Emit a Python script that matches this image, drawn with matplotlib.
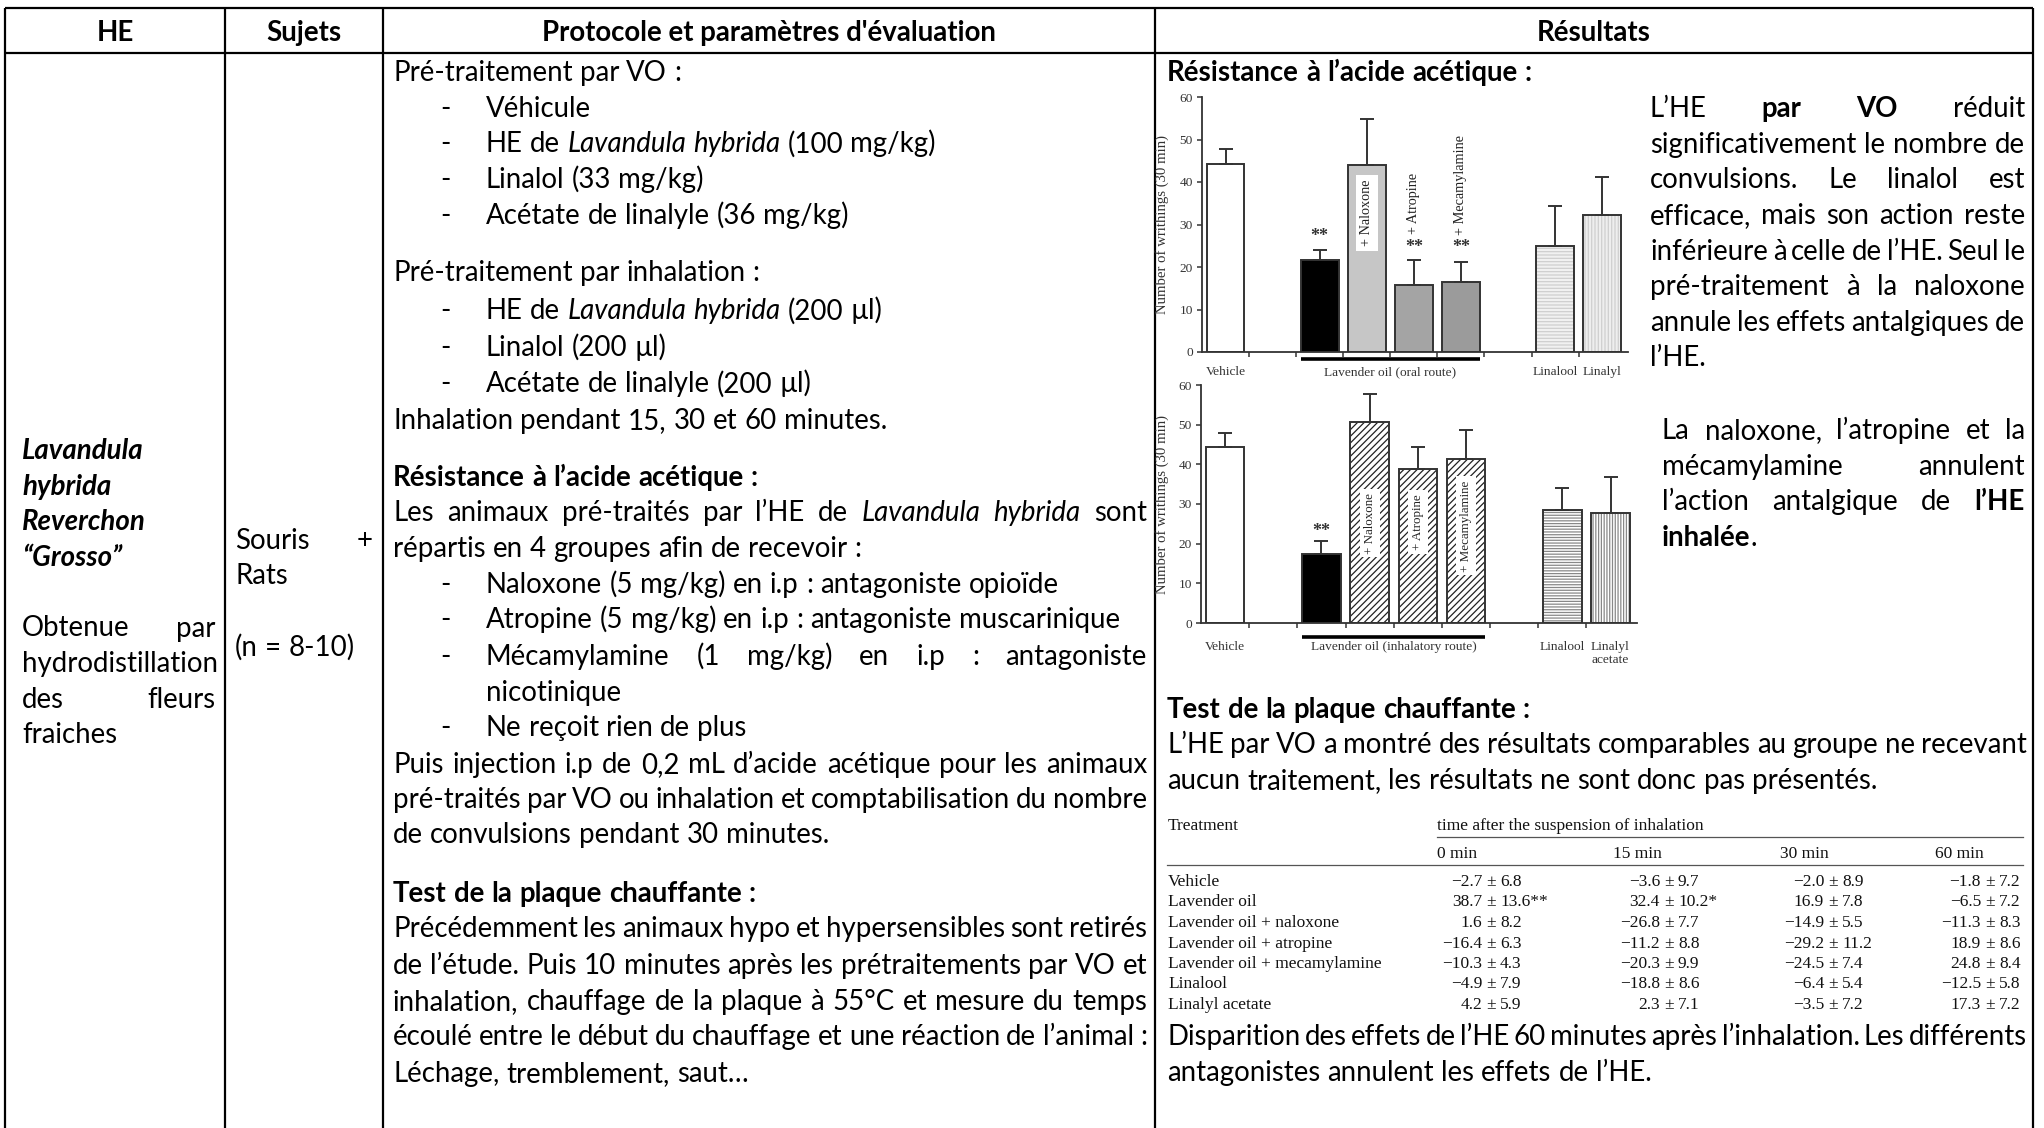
import re
import matplotlib
matplotlib.use('Agg')
import matplotlib.pyplot as plt
import numpy as np

# ---------------- data ----------------
bar_names_oral = ["Vehicle", "Lavender oil", "+ Naloxone", "+ Atropine", "+ Mecamylamine", "Linalool", "Linalyl"]
bar_pos = [0, 2, 3, 4, 5, 7, 8]
oral_means = [44.3, 21.6, 43.9, 15.8, 16.5, 25.0, 32.3]
oral_err = [3.5, 2.3, 11.0, 5.8, 4.7, 9.4, 8.9]
oral_sig = ["", "**", "", "**", "**", "", ""]

inh_means = [44.4, 17.4, 50.6, 38.9, 41.4, 28.4, 27.8]
inh_err = [3.6, 3.2, 7.1, 5.5, 7.3, 5.6, 9.1]
inh_sig = ["", "**", "", "", "", "", ""]

tbl_treat = ["Vehicle", "Lavender oil", "Lavender oil + naloxone", "Lavender oil + atropine",
             "Lavender oil + mecamylamine", "Linalool", "Linalyl acetate"]
tbl_times = ["0 min", "15 min", "30 min", "60 min"]
tbl_mean = [[-2.7, -3.6, -2.0, -1.8],
            [38.7, 32.4, 16.9, -6.5],
            [1.6, -26.8, -14.9, -11.3],
            [-16.4, -11.2, -29.2, 18.9],
            [-10.3, -20.3, -24.5, 24.8],
            [-4.9, -18.8, -6.4, -12.5],
            [4.2, 2.3, -3.5, 17.3]]
tbl_sem = [[6.8, 9.7, 8.9, 7.2],
           [13.6, 10.2, 7.8, 7.2],
           [8.2, 7.7, 5.5, 8.3],
           [6.3, 8.8, 11.2, 8.6],
           [4.3, 9.9, 7.4, 8.4],
           [7.9, 8.6, 5.4, 5.8],
           [5.9, 7.1, 7.2, 7.2]]
tbl_sig = [["", "", "", ""],
           ["**", "*", "", ""],
           ["", "", "", ""],
           ["", "", "", ""],
           ["", "", "", ""],
           ["", "", "", ""],
           ["", "", "", ""]]

headers = ["HE", "Sujets", "Protocole et paramètres d'évaluation", "Résultats"]

col1_lines = [("Lavandula", 'bi', False), ("hybrida", 'bi', False), ("Reverchon", 'bi', False),
              ("“Grosso”", 'bi', False), None, ("Obtenue par", 'r', True),
              ("hydrodistillation", 'r', False), ("des fleurs", 'r', True), ("fraiches", 'r', False)]
col2_lines = [("Souris +", True), ("Rats", False), None, ("(n = 8-10)", False)]

col3_lines = [
    ('p', 'Pré-traitement par VO :', 55, False),
    ('d', 'Véhicule', 83, False),
    ('d', 'HE de __Lavandula hybrida__ (100 mg/kg)', 110, False),
    ('d', 'Linalol (33 mg/kg)', 137, False),
    ('d', 'Acétate de linalyle (36 mg/kg)', 165, False),
    ('p', 'Pré-traitement par inhalation :', 209, False),
    ('d', 'HE de __Lavandula hybrida__ (200 µl)', 238, False),
    ('d', 'Linalol (200 µl)', 266, False),
    ('d', 'Acétate de linalyle (200 µl)', 294, False),
    ('p', 'Inhalation pendant 15, 30 et 60 minutes.', 322, False),
    ('p', '**Résistance à l’acide acétique :**', 366, False),
    ('p', 'Les animaux pré-traités par l’HE de __Lavandula hybrida__ sont', 393, True),
    ('p', 'répartis en 4 groupes afin de recevoir :', 420, False),
    ('d', 'Naloxone (5 mg/kg) en i.p : antagoniste opioïde', 448, False),
    ('d', 'Atropine (5 mg/kg) en i.p : antagoniste muscarinique', 475, False),
    ('d', 'Mécamylamine (1 mg/kg) en i.p : antagoniste', 503, True),
    ('c', 'nicotinique', 531, False),
    ('d', 'Ne reçoit rien de plus', 558, False),
    ('p', 'Puis injection i.p de 0,2 mL d’acide acétique pour les animaux', 586, True),
    ('p', 'pré-traités par VO ou inhalation et comptabilisation du nombre', 613, True),
    ('p', 'de convulsions pendant 30 minutes.', 640, False),
    ('p', '**Test de la plaque chauffante :**', 685, False),
    ('p', 'Précédemment les animaux hypo et hypersensibles sont retirés', 712, True),
    ('p', 'de l’étude. Puis 10 minutes après les prétraitements par VO et', 740, True),
    ('p', 'inhalation, chauffage de la plaque à 55°C et mesure du temps', 768, True),
    ('p', 'écoulé entre le début du chauffage et une réaction de l’animal :', 795, True),
    ('p', 'Léchage, tremblement, saut…', 823, False),
]

resA = ['L’HE **par** **VO** réduit', 'significativement le nombre de', 'convulsions. Le linalol est',
        'efficace, mais son action reste', 'inférieure à celle de l’HE. Seul le',
        'pré-traitement à la naloxone', 'annule les effets antalgiques de', 'l’HE.']
resB = ['La naloxone, l’atropine et la', 'mécamylamine annulent',
        'l’action antalgique de **l’HE**', '**inhalée**.']

# ---------------- setup ----------------
plt.rcParams['hatch.linewidth'] = 0.9
W, H = 2044, 1128
S = 1.3036
fig = plt.figure(figsize=(W / 100, H / 100), dpi=100)
fig.patch.set_facecolor('white')
bg = fig.add_axes([0, 0, 1, 1], zorder=0)
bg.set_xlim(0, W)
bg.set_ylim(H, 0)
bg.axis('off')
R = fig.canvas.get_renderer()

BODY = ['Lato', 'DejaVu Sans']
SERIF = ['Liberation Serif', 'DejaVu Serif']
STY = {'r': {}, 'b': {'weight': 'bold'}, 'i': {'style': 'italic'},
       'bi': {'weight': 'bold', 'style': 'italic'}}
_cache = {}


def tw(s, st, size, fam=BODY):
    key = (s, st, size, tuple(fam))
    if key not in _cache:
        t = bg.text(0, 0, s, fontsize=size, family=fam, **STY[st])
        _cache[key] = t.get_window_extent(R).width
        t.remove()
    return _cache[key]


def parse(line, base='r'):
    runs = []
    for part in re.split(r'(\*\*.*?\*\*|__.*?__)', line):
        if not part:
            continue
        if part.startswith('**'):
            runs.append((part[2:-2], 'b'))
        elif part.startswith('__'):
            runs.append((part[2:-2], 'i'))
        else:
            runs.append((part, base))
    words, cur = [], []
    for txt, st in runs:
        for tok in re.split(r'( +)', txt):
            if tok == '':
                continue
            if tok.strip() == '':
                if cur:
                    words.append(cur)
                    cur = []
            else:
                cur.append((tok, st))
    if cur:
        words.append(cur)
    return words


BS = 20 * 495 / tw('Inhalation pendant 15, 30 et 60 minutes.', 'r', 20)


def draw_line(line, x0, x1, y, justify=False, base='r', size=None, fam=BODY):
    size = size or BS
    words = parse(line, base)
    widths = [sum(tw(t, st, size, fam) for t, st in w) for w in words]
    space = tw('a a', 'r', size, fam) - tw('aa', 'r', size, fam)
    if justify and len(words) > 1:
        gap = (x1 - x0 - sum(widths)) / (len(words) - 1)
    else:
        gap = space
    x = x0
    for w, wd in zip(words, widths):
        xx = x
        for t, st in w:
            bg.text(xx, y, t, fontsize=size, family=fam, va='baseline', ha='left', color='black', **STY[st])
            xx += tw(t, st, size, fam)
        x += wd + gap


def yb(yd):
    return yd * S + 9

# ---------------- grid lines ----------------
vx = [5, 225, 383, 1155, 2033]
for x in vx:
    bg.plot([x, x], [8, H + 5], color='black', lw=1.6, solid_capstyle='butt')
for y in [8, 53]:
    bg.plot([vx[0], vx[-1]], [y, y], color='black', lw=1.6, solid_capstyle='butt')

for i, h in enumerate(headers):
    bg.text((vx[i] + vx[i + 1]) / 2, 41, h, fontsize=BS, family=BODY, weight='bold',
            ha='center', va='baseline')

# ---------------- column 1 & 2 ----------------
for i, item in enumerate(col1_lines):
    if item is None:
        continue
    txt, base, j = item
    draw_line(txt, 22, 215, 450 + 35.5 * i + 9, justify=j, base=base)

for i, item in enumerate(col2_lines):
    if item is None:
        continue
    txt, j = item
    draw_line(txt, 235, 373, 540 + 35.5 * i + 9, justify=j)

# ---------------- column 3 ----------------
for kind, txt, yd, j in col3_lines:
    y = yb(yd)
    if kind == 'p':
        draw_line(txt, 393, 1147, y, justify=j)
    elif kind == 'd':
        bg.text(440, y, '-', fontsize=BS, family=BODY, va='baseline')
        draw_line(txt, 486, 1147, y, justify=j)
    else:
        draw_line(txt, 486, 1147, y, justify=j)

# ---------------- column 4 texts ----------------
draw_line('**Résistance à l’acide acétique :**', 1167, 2027, yb(55))
for i, t in enumerate(resA):
    draw_line(t, 1650, 2025, yb(83 + 27.3 * i), justify=(i < len(resA) - 1))
for i, t in enumerate(resB):
    draw_line(t, 1662, 2025, yb(330 + 27.3 * i), justify=(i < len(resB) - 1))
draw_line('**Test de la plaque chauffante :**', 1167, 2027, yb(544))
draw_line('L’HE par VO a montré des résultats comparables au groupe ne recevant', 1167, 2027, yb(571), justify=True)
draw_line('aucun traitement, les résultats ne sont donc pas présentés.', 1167, 2027, yb(598))
draw_line('Disparition des effets de l’HE 60 minutes après l’inhalation. Les différents', 1167, 2027, yb(795), justify=True)
draw_line('antagonistes annulent les effets de l’HE.', 1167, 2027, yb(822))

# ---------------- table ----------------
TS = 20 * 214 / tw('Lavender oil + mecamylamine', 'r', 20, SERIF)
tkw = dict(fontsize=TS, family=SERIF, va='baseline', color='#111111')
bg.text(1168, 830, 'Treatment', ha='left', **tkw)
bg.text(1437, 830, 'time after the suspension of inhalation', ha='left', **tkw)
bg.plot([1437, 2023], [837, 837], color='#555555', lw=0.9)
tcol_x = [1437, 1613, 1780, 1935]
for x, t in zip(tcol_x, tbl_times):
    bg.text(x, 858, t, ha='left', **tkw)
bg.plot([1167, 2023], [865, 865], color='#555555', lw=0.9)
pm_x = [1491, 1669, 1833, 1990]


def fmt(v):
    return f"{v:.1f}".replace('-', '−')


for r, name in enumerate(tbl_treat):
    y = 886 + 20.5 * r
    bg.text(1168, y, name, ha='left', **tkw)
    for c in range(4):
        bg.text(pm_x[c] - 9, y, fmt(tbl_mean[r][c]), ha='right', **tkw)
        bg.text(pm_x[c], y, '±', ha='center', **tkw)
        bg.text(pm_x[c] + 9, y, fmt(tbl_sem[r][c]) + tbl_sig[r][c], ha='left', **tkw)

# ---------------- bar charts ----------------
EC = '#333333'
CFS = 9.6


def make_chart(rect, means, errs, sig, styles, group_label, sig_y, lab_y, line_y, ylab_x):
    ax = fig.add_axes([rect[0] / W, 1 - rect[3] / H, (rect[2] - rect[0]) / W, (rect[3] - rect[1]) / H])
    ax.patch.set_alpha(0)
    for x, m, (fc, hatch, hc) in zip(bar_pos, means, styles):
        if hatch:
            ax.bar(x, m, 0.8, color=fc, edgecolor=hc, hatch=hatch, linewidth=0, zorder=2)
            ax.bar(x, m, 0.8, fill=False, edgecolor=EC, linewidth=1.4, zorder=3)
        else:
            ax.bar(x, m, 0.8, color=fc, edgecolor=EC, linewidth=1.4, zorder=2)
    ax.errorbar(bar_pos, means, yerr=[np.zeros(len(means)), errs], fmt='none', ecolor=EC,
                elinewidth=1.4, capsize=5, capthick=1.4, zorder=4)
    for x, s, yy in zip(bar_pos, sig, sig_y):
        if s:
            ax.text(x, yy, s, ha='center', va='center', fontsize=13, family=SERIF,
                    weight='bold', color='#333333')
    ax.set_xlim(-0.5, 8.55)
    ax.set_ylim(0, 60)
    for s in ['top', 'right']:
        ax.spines[s].set_visible(False)
    for s in ['left', 'bottom']:
        ax.spines[s].set_color(EC)
        ax.spines[s].set_linewidth(1.3)
    ax.set_yticks(range(0, 61, 10))
    ax.set_xticks(np.arange(0.5, 8, 1))
    ax.set_xticklabels([])
    ax.tick_params(axis='both', direction='out', length=3.5, width=1.1, color=EC,
                   labelsize=CFS, labelcolor='#333333', pad=3)
    for lab in ax.get_yticklabels():
        lab.set_family(SERIF)
    ax.set_ylabel('Number of writhings (30 min)', fontsize=10.6, family=SERIF, color='#333333')
    ax.yaxis.set_label_coords(ylab_x, 0.5)
    tr = ax.get_xaxis_transform()
    ax.plot([1.6, 5.4], [line_y, line_y], transform=tr, clip_on=False, lw=2.6, color='black',
            solid_capstyle='butt')
    lkw = dict(fontsize=CFS, family=SERIF, color='#333333', ha='center', va='center', transform=tr)
    ax.text(0, lab_y, 'Vehicle', **lkw)
    ax.text(3.5, lab_y, group_label, **lkw)
    ax.text(7, lab_y, 'Linalool', **lkw)
    return ax, tr, lkw


oral_styles = [('white', None, None), ('black', None, None), ('#c6c6c6', None, None),
               ('#a4a4a4', None, None), ('#9b9b9b', None, None),
               ('#f1f1f1', '-----', '#cfcfcf'), ('#eeeeee', '|||||', '#cfcfcf')]
ax1, tr1, lkw1 = make_chart((1202, 97, 1628, 352), oral_means, oral_err, oral_sig, oral_styles,
                            'Lavender oil (oral route)', [0, 27.1, 0, 24.7, 24.7, 0, 0],
                            -0.078, -0.027, -0.077)
ax1.text(8, -0.078, 'Linalyl', **lkw1)
bkw1 = dict(rotation=90, ha='center', va='center', fontsize=10.3, family=SERIF, color='#222222')
ax1.text(3, 32.7, bar_names_oral[2], bbox=dict(boxstyle='square,pad=0.3', fc='white', ec='none'), **bkw1)
ax1.text(4, 35.0, bar_names_oral[3], **bkw1)
ax1.text(5, 39.4, bar_names_oral[4], **bkw1)

inh_styles = [('white', None, None), ('black', None, None), ('white', '/////', '#222222'),
              ('white', '/////', '#222222'), ('white', '/////', '#222222'),
              ('white', '------', '#888888'), ('white', '||||||', '#888888')]
ax2, tr2, lkw2 = make_chart((1201, 385, 1637, 623), inh_means, inh_err, inh_sig, inh_styles,
                            'Lavender oil (inhalatory route)', [0, 23.1, 0, 0, 0, 0, 0],
                            -0.101, -0.059, -0.073)
ax2.text(8, -0.101, 'Linalyl', **lkw2)
ax2.text(8, -0.155, 'acetate', **lkw2)
bkw2 = dict(rotation=90, ha='center', va='center', fontsize=9.4, family=SERIF, color='#222222',
            bbox=dict(boxstyle='square,pad=0.3', fc='white', ec='none'))
ax2.text(3, 25.2, bar_names_oral[2], **bkw2)
ax2.text(4, 25.4, bar_names_oral[3], **bkw2)
ax2.text(5, 24.5, bar_names_oral[4], **bkw2)

fig.savefig('out.png', dpi=100, facecolor='white')
